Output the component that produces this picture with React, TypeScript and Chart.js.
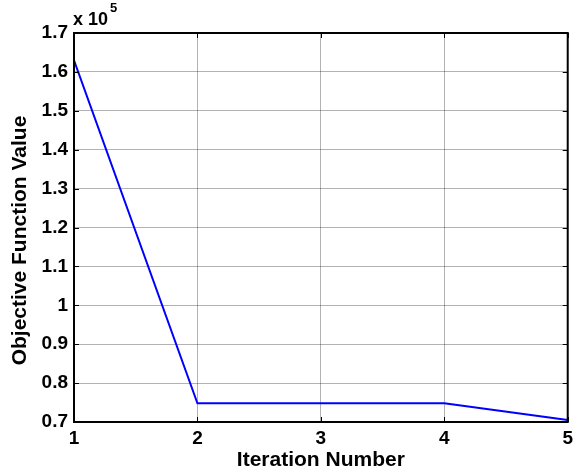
import React, { useEffect, useRef } from "react";
import { Chart, registerables } from "chart.js";

Chart.register(...registerables);

const iterations = [1, 2, 3, 4, 5];
const objectiveValues = [1.63, 0.748, 0.748, 0.748, 0.705];
const xTicks = [1, 2, 3, 4, 5];
const yTicks = [0.7, 0.8, 0.9, 1.0, 1.1, 1.2, 1.3, 1.4, 1.5, 1.6, 1.7];
const yTitle = "Objective Function Value";

const FONT = "'Liberation Sans', Arial, sans-serif";

const framePlugin = {
  id: "frame",
  afterDraw(chart: any) {
    const { ctx, chartArea: a, scales } = chart;
    const xs = scales.x;
    const ys = scales.y;
    ctx.save();
    ctx.strokeStyle = "#000";
    ctx.lineWidth = 1;
    const tl = 5;
    ctx.beginPath();
    xTicks.forEach((v) => {
      const px = Math.round(xs.getPixelForValue(v)) + 0.5;
      ctx.moveTo(px, a.bottom);
      ctx.lineTo(px, a.bottom - tl);
      ctx.moveTo(px, a.top);
      ctx.lineTo(px, a.top + tl);
    });
    yTicks.forEach((v) => {
      const py = Math.round(ys.getPixelForValue(v)) + 0.5;
      ctx.moveTo(a.left, py);
      ctx.lineTo(a.left + tl, py);
      ctx.moveTo(a.right, py);
      ctx.lineTo(a.right - tl, py);
    });
    ctx.stroke();
    ctx.lineWidth = 2;
    ctx.strokeRect(a.left, a.top, a.right - a.left, a.bottom - a.top);
    // exponent label
    ctx.fillStyle = "#000";
    ctx.textBaseline = "alphabetic";
    ctx.textAlign = "left";
    ctx.font = `bold 18px ${FONT}`;
    ctx.fillText("x 10", a.left - 1, 25);
    const w = ctx.measureText("x 10").width;
    ctx.font = `bold 13px ${FONT}`;
    ctx.fillText("5", a.left - 1 + w + 2, 12);
    // y axis title
    ctx.save();
    ctx.translate(20, (a.top + a.bottom) / 2 + 13);
    ctx.rotate(-Math.PI / 2);
    ctx.textAlign = "center";
    ctx.textBaseline = "middle";
    ctx.font = `bold 21px ${FONT}`;
    ctx.fillText(yTitle, 0, 0);
    ctx.restore();
    ctx.restore();
  },
};

export default function App() {
  const ref = useRef<HTMLCanvasElement>(null);
  useEffect(() => {
    document.body.style.margin = "0";
    const chart = new Chart(ref.current!, {
      type: "line",
      data: {
        datasets: [
          {
            data: iterations.map((x, i) => ({ x, y: objectiveValues[i] })),
            borderColor: "#0000ff",
            borderWidth: 2,
            pointRadius: 0,
            tension: 0,
            fill: false,
          },
        ],
      },
      options: {
        animation: false,
        responsive: false,
        maintainAspectRatio: false,
        layout: { padding: { top: 33, right: 6, bottom: 0, left: 0 } },
        plugins: { legend: { display: false }, tooltip: { enabled: false } },
        scales: {
          x: {
            type: "linear",
            min: 1,
            max: 5,
            afterBuildTicks: (s: any) => {
              s.ticks = xTicks.map((v) => ({ value: v }));
            },
            afterFit: (s: any) => {
              s.height = 53;
            },
            grid: { color: "rgba(0,0,0,0.3)", lineWidth: 1, drawTicks: false },
            border: { display: false },
            ticks: {
              color: "#000",
              padding: 5,
              font: { family: FONT, size: 19, weight: "bold" },
              callback: (v: any) => String(v),
            },
            title: {
              display: true,
              text: "Iteration Number",
              color: "#000",
              font: { family: FONT, size: 21, weight: "bold" },
              padding: { top: 0, bottom: 2 },
            },
          },
          y: {
            type: "linear",
            min: 0.7,
            max: 1.7,
            afterBuildTicks: (s: any) => {
              s.ticks = yTicks.map((v) => ({ value: v }));
            },
            afterFit: (s: any) => {
              s.width = 74;
            },
            grid: { color: "rgba(0,0,0,0.3)", lineWidth: 1, drawTicks: false },
            border: { display: false },
            ticks: {
              color: "#000",
              padding: 6,
              font: { family: FONT, size: 19, weight: "bold" },
              callback: (v: any) => String(Math.round(Number(v) * 10) / 10),
            },
            title: { display: false },
          },
        },
      },
      plugins: [framePlugin],
    } as any);
    return () => chart.destroy();
  }, []);
  return (
    <div style={{ position: "absolute", left: 0, top: 0, width: 578, height: 475, background: "#fff" }}>
      <canvas ref={ref} width={578} height={475} style={{ width: 578, height: 475 }} />
    </div>
  );
}
